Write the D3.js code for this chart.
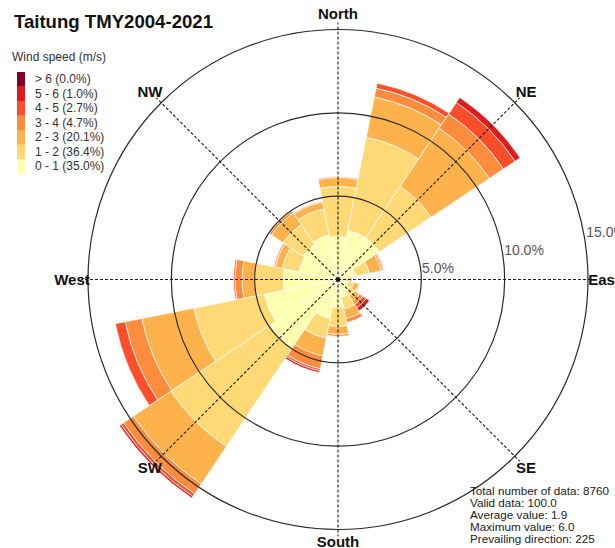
<!DOCTYPE html>
<html>
<head>
<meta charset="utf-8">
<script src="https://cdn.jsdelivr.net/npm/d3@7"></script>
<style>
  html, body { margin: 0; padding: 0; background: #fff; overflow: hidden; }
  svg { display: block; font-family: "Liberation Sans", Arial, sans-serif; }
</style>
</head>
<body>
<svg id="chart" width="615" height="548"></svg>
<script>
// ---------- data ----------
const title = "Taitung TMY2004-2021";
const directions = ["N","NNE","NE","ENE","E","ESE","SE","SSE","S","SSW","SW","WSW","W","WNW","NW","NNW"];
const speedBins = ["0 - 1", "1 - 2", "2 - 3", "3 - 4", "4 - 5", "5 - 6", "> 6"];
const binShares = ["35.0%", "36.4%", "20.1%", "4.7%", "2.7%", "1.0%", "0.0%"];
const binColors = ["#ffffb2", "#fed976", "#feb24c", "#fd8d3c", "#fc4e2a", "#e31a1c", "#800026"];
// frequency (%) per direction for each speed bin
const speed0to1 = [2.58, 3.00, 3.00, 1.08, 0.42, 0.60, 0.84, 1.08, 1.68, 2.40, 4.92, 4.50, 3.30, 2.40, 2.52, 2.70];
const speed1to2 = [3.00, 5.70, 3.72, 0.84, 0.30, 0.36, 0.36, 0.72, 1.14, 1.20, 7.14, 4.32, 1.68, 1.02, 1.44, 1.62];
const speed2to3 = [0.54, 2.46, 4.20, 0.72, 0.12, 0.30, 0.36, 0.60, 0.48, 1.08, 2.70, 3.18, 0.78, 0.42, 0.84, 0.42];
const speed3to4 = [0.06, 0.54, 1.02, 0.12, 0.00, 0.06, 0.24, 0.24, 0.12, 0.78, 0.72, 1.02, 0.42, 0.09, 0.15, 0.06];
const speed4to5 = [0.00, 0.30, 0.84, 0.06, 0.00, 0.00, 0.24, 0.00, 0.00, 0.12, 0.18, 0.60, 0.09, 0.00, 0.06, 0.00];
const speed5to6 = [0.00, 0.00, 0.36, 0.03, 0.00, 0.00, 0.24, 0.00, 0.00, 0.12, 0.12, 0.00, 0.00, 0.00, 0.00, 0.00];
const speedAbove6 = [0, 0, 0, 0, 0, 0, 0, 0, 0, 0, 0, 0, 0, 0, 0, 0];
const gridValues = [5, 10, 15];
const gridLabels = ["5.0%", "10.0%", "15.0%"];
const compassNames = ["North", "NE", "East", "SE", "South", "SW", "West", "NW"];
const statsLines = ["Total number of data: 8760", "Valid data: 100.0", "Average value: 1.9", "Maximum value: 6.0", "Prevailing direction: 225"];

// ---------- layout ----------
const svg = d3.select("#chart");
const cx = 338, cy = 279.5;
const r = d3.scaleLinear().domain([0, 15]).range([0, 250]);
const series = [speed0to1, speed1to2, speed2to3, speed3to4, speed4to5, speed5to6, speedAbove6];

const rows = directions.map((d, i) => {
  const o = { dir: d };
  speedBins.forEach((b, k) => { o[b] = series[k][i]; });
  return o;
});
const stacked = d3.stack().keys(speedBins)(rows);

const sector = 2 * Math.PI / directions.length;
const angle = d3.scaleBand().domain(directions).range([-sector / 2, 2 * Math.PI - sector / 2]);

const g = svg.append("g").attr("transform", `translate(${cx},${cy})`);
const arc = d3.arc()
  .innerRadius(d => r(d[0]))
  .outerRadius(d => r(d[1]))
  .startAngle(d => angle(d.data.dir))
  .endAngle(d => angle(d.data.dir) + angle.bandwidth());

g.selectAll("g.layer").data(stacked).join("g")
  .attr("class", "layer")
  .attr("fill", (d, k) => binColors[k])
  .selectAll("path").data(d => d.filter(v => v[1] - v[0] > 0)).join("path")
  .attr("d", arc)
  .attr("stroke", "#ffffff")
  .attr("stroke-width", 0.7);

// grid circles
g.selectAll("circle.grid").data(gridValues).join("circle")
  .attr("class", "grid")
  .attr("r", d => r(d))
  .attr("fill", "none")
  .attr("stroke", "#2a2a2a")
  .attr("stroke-width", 1.2);

// dashed compass lines
const compassAngles = compassNames.map((n, i) => i * Math.PI / 4);
g.selectAll("line.axis").data(compassAngles).join("line")
  .attr("class", "axis")
  .attr("x1", 0).attr("y1", 0)
  .attr("x2", a => Math.sin(a) * 257)
  .attr("y2", a => -Math.cos(a) * 257)
  .attr("stroke", "#1a1a1a")
  .attr("stroke-width", 1.1)
  .attr("stroke-dasharray", "3,2");

// centre dot
g.append("circle").attr("r", 2).attr("fill", "#111");

// grid labels
g.selectAll("text.glabel").data(gridValues).join("text")
  .attr("class", "glabel")
  .attr("x", d => r(d) * 0.985 + 2)
  .attr("y", d => 7 - 0.22 * r(d))
  .attr("dominant-baseline", "central")
  .attr("font-size", 14)
  .attr("fill", "#555")
  .text((d, i) => gridLabels[i]);

// compass labels
const labelR = [266, 266, 266, 266, 262, 266, 266, 266];
g.selectAll("text.compass").data(compassNames).join("text")
  .attr("class", "compass")
  .attr("x", (d, i) => Math.sin(compassAngles[i]) * labelR[i])
  .attr("y", (d, i) => -Math.cos(compassAngles[i]) * labelR[i])
  .attr("text-anchor", "middle")
  .attr("dominant-baseline", "central")
  .attr("font-size", 15)
  .attr("font-weight", "bold")
  .attr("fill", "#111")
  .text(d => d);

// title
svg.append("text")
  .attr("x", 213).attr("y", 28)
  .attr("text-anchor", "end")
  .attr("font-size", 18.6)
  .attr("font-weight", "bold")
  .attr("fill", "#111")
  .text(title);

// legend
svg.append("text")
  .attr("x", 12).attr("y", 57)
  .attr("dominant-baseline", "central")
  .attr("font-size", 12)
  .attr("fill", "#333")
  .text("Wind speed (m/s)");

const legendOrder = d3.range(speedBins.length).reverse();
const rowH = 14.5, legTop = 72;
const leg = svg.append("g");
leg.selectAll("rect").data(legendOrder).join("rect")
  .attr("x", 17).attr("y", (k, j) => legTop + j * rowH)
  .attr("width", 8).attr("height", rowH + 0.3)
  .attr("fill", k => binColors[k]);
leg.selectAll("text").data(legendOrder).join("text")
  .attr("x", 35).attr("y", (k, j) => legTop + j * rowH + rowH / 2)
  .attr("dominant-baseline", "central")
  .attr("font-size", 12)
  .attr("fill", "#333")
  .text(k => `${speedBins[k]} (${binShares[k]})`);

// stats
svg.selectAll("text.stats").data(statsLines).join("text")
  .attr("class", "stats")
  .attr("x", 470).attr("y", (d, i) => 490.5 + i * 12.1)
  .attr("dominant-baseline", "central")
  .attr("font-size", 11.7)
  .attr("fill", "#222")
  .text(d => d);
</script>
</body>
</html>
